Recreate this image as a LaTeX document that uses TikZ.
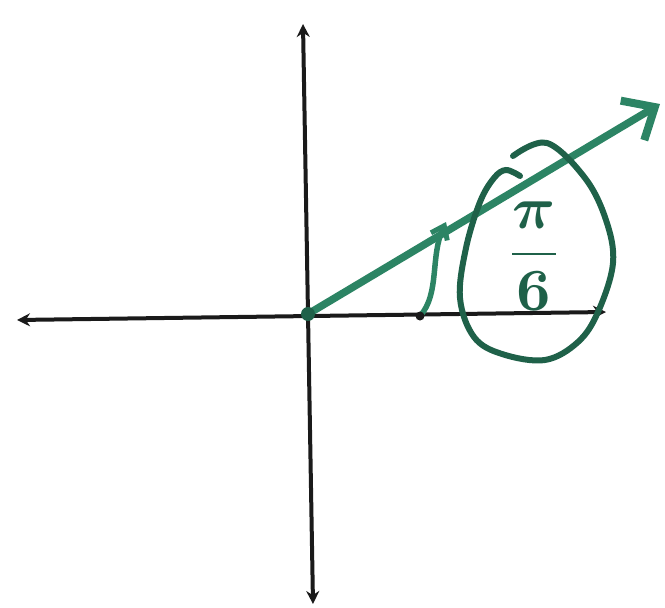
\documentclass[tikz,border=0pt]{standalone}
\usepackage{bm}
\usetikzlibrary{arrows.meta}
\definecolor{pen}{HTML}{2C8464}
\definecolor{pendark}{HTML}{1F6149}
\definecolor{ink}{HTML}{1A1A1A}
\begin{document}
\begin{tikzpicture}[x=1pt,y=-1pt,
  axis/.style={line width=4pt, ink, {Stealth[length=13pt,width=13pt]}-{Stealth[length=13pt,width=13pt]}},
  ray/.style={line width=7.5pt, pen, -{Straight Barb[length=26pt,width=46pt,line width=8pt]}},
  anglearrow/.style={line width=5.5pt, pen, line cap=round, -{Straight Barb[length=12pt,width=18pt,line width=5pt]}},
  loopline/.style={line width=6pt, pendark, line cap=round},
  fraclabel/.style={text=pendark, scale=6, inner sep=0pt}
]
\useasboundingbox (0,0) rectangle (665,608);
\node[fraclabel] (lab) at (534,256) {$\displaystyle\frac{\bm{\pi}}{\bm{6}}$};
\coordinate (L) at (17,320);
\coordinate (R) at (606,312);
\coordinate (T) at (303,24);
\coordinate (B) at (313,604);
\coordinate (O) at (308,314);
\coordinate (Tip) at (660,104);
\coordinate (A0) at (420,316);
\coordinate (A1) at (446,222);
\draw[axis] (L) -- (R);
\draw[axis] (T) -- (B);
\draw[ray] (O) -- (Tip);
\fill[pendark] (O) circle (7);
\draw[anglearrow] (A0) .. controls (440,294) and (430,256) .. (A1);
\fill[ink] (A0) circle (4.5);
\draw[loopline] plot[smooth, tension=0.6] coordinates {(513,156) (547,143) (585,178) (606,220) (613,263) (598,312) (578,342) (545,360) (502,354) (474,337) (460,298) (466,248) (480,202) (494,178) (506,170) (520,176)};
\end{tikzpicture}
\end{document}
